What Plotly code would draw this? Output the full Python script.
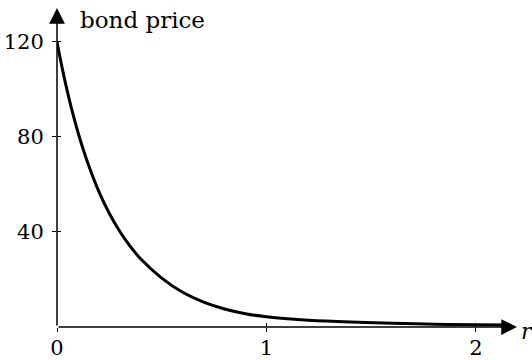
import plotly.graph_objects as go

# Bond price as a function of the interest rate r
rates = [0.0, 0.025, 0.05, 0.075, 0.1, 0.125, 0.15, 0.2, 0.25, 0.3, 0.35, 0.4, 0.5,
         0.6, 0.7, 0.8, 0.9, 1.0, 1.1, 1.2, 1.4, 1.6, 1.8, 2.0, 2.15]
prices = [120, 108.9, 99.0, 90.0, 82.0, 74.8, 68.3, 57.0, 47.8, 40.2, 33.9, 28.6, 20.6,
          14.6, 10.5, 7.6, 5.6, 4.3, 3.45, 2.85, 2.1, 1.6, 1.2, 0.95, 0.8]

x_ticks = [0, 1, 2]
y_ticks = [40, 80, 120]
x_max = 2.196
y_max = 134.3

serif = "'DejaVu Serif', 'Liberation Serif', serif"
fig = go.Figure()
fig.add_trace(go.Scatter(x=rates, y=prices, mode="lines",
                         line=dict(color="black", width=3, shape="spline", smoothing=1.0),
                         hoverinfo="skip", showlegend=False))
# invisible trace so the overlay axes (inward half of each tick) are drawn
fig.add_trace(go.Scatter(x=[0], y=[0], xaxis="x2", yaxis="y2", mode="markers",
                         marker=dict(opacity=0), hoverinfo="skip", showlegend=False))

axis_common = dict(showgrid=False, zeroline=False, showline=False, automargin=False)
fig.update_layout(
    width=532, height=360,
    margin=dict(l=57, r=532 - 57 - round(x_max * 209.5), t=8, b=33),
    paper_bgcolor="white", plot_bgcolor="white",
    font=dict(family=serif, size=21, color="black"),
    xaxis=dict(range=[0, x_max], tickvals=x_ticks, ticks="outside", ticklen=4,
               tickwidth=1.2, tickcolor="black", ticklabelstandoff=-2, **axis_common),
    yaxis=dict(range=[0, y_max], tickvals=y_ticks, ticks="outside", ticklen=4,
               tickwidth=1.2, tickcolor="black", ticklabelstandoff=4, **axis_common),
    xaxis2=dict(range=[0, x_max], tickvals=x_ticks, ticks="inside", ticklen=4,
                tickwidth=1.2, tickcolor="black", showticklabels=False,
                overlaying="x", anchor="y2", side="bottom", **axis_common),
    yaxis2=dict(range=[0, y_max], tickvals=y_ticks, ticks="inside", ticklen=4,
                tickwidth=1.2, tickcolor="black", showticklabels=False,
                overlaying="y", anchor="x2", side="left", **axis_common),
)

arrow = dict(showarrow=True, arrowhead=2, arrowwidth=1.5, arrowsize=2.1,
             arrowcolor="black", text="", xref="x", yref="y", axref="x", ayref="y")
fig.add_annotation(x=x_max, y=0, ax=0, ay=0, **arrow)
fig.add_annotation(x=0, y=y_max, ax=0, ay=0, **arrow)

fig.add_annotation(x=0.1, y=y_max, xref="x", yref="y", text="bond price",
                   showarrow=False, xanchor="left", yanchor="top", yshift=3,
                   font=dict(family=serif, size=23))
fig.add_annotation(x=x_max, y=0, xref="x", yref="y", text="<i>r</i>",
                   showarrow=False, xanchor="left", yanchor="middle",
                   xshift=2, yshift=-4, font=dict(family=serif, size=22))

fig.write_html("out.html")
